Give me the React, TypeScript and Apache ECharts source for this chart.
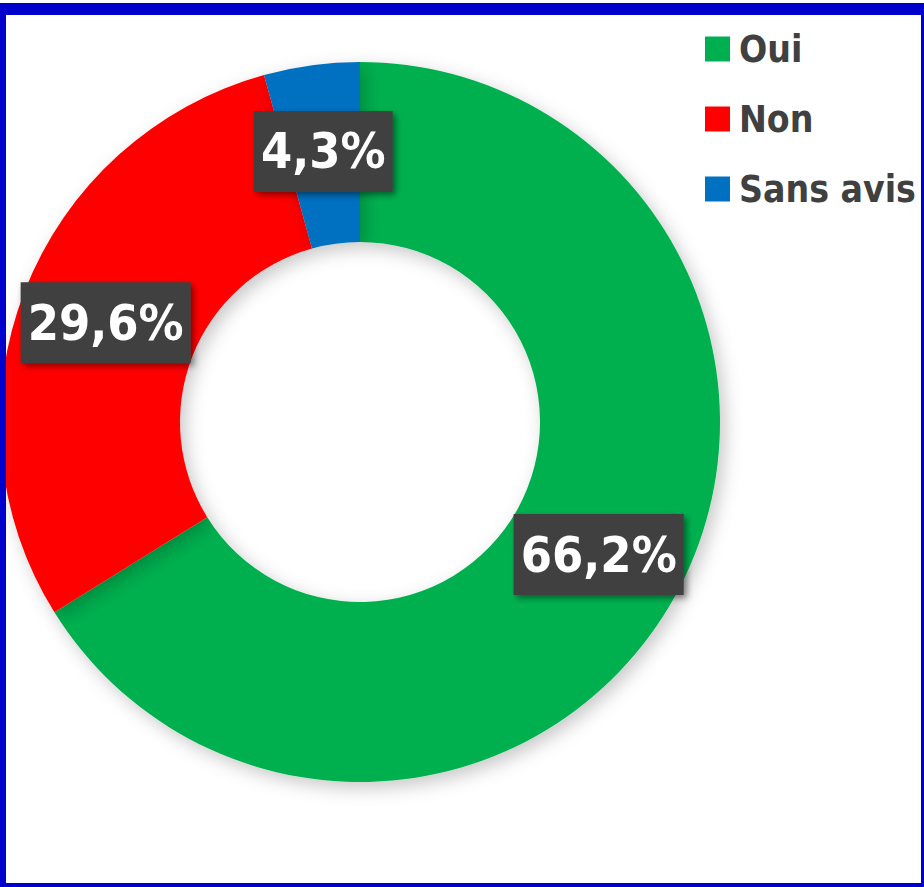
import React, { useEffect, useRef } from "react";
import * as echarts from "echarts";

const categories = ["Oui", "Non", "Sans avis"];
const values = [66.2, 29.6, 4.3];
const labels = ["66,2%", "29,6%", "4,3%"];
const colors = ["#00B050", "#FF0000", "#0070C0"];

const FONT = "'DejaVu Sans Condensed', 'Liberation Sans Narrow', 'Liberation Sans', Arial, sans-serif";

export default function App() {
  const ref = useRef<HTMLDivElement>(null);
  useEffect(() => {
    if (!ref.current) return;
    const chart = echarts.init(ref.current, null, { renderer: "svg" });
    chart.setOption({
      animation: false,
      backgroundColor: "#ffffff",
      color: colors,
      legend: {
        orient: "vertical",
        left: 700,
        top: 19,
        itemWidth: 25,
        itemHeight: 25,
        itemGap: 20,
        icon: "rect",
        data: categories,
        textStyle: {
          fontFamily: FONT,
          fontWeight: "bold",
          fontSize: 37,
          lineHeight: 50,
          color: "#404040",
          padding: [0, 0, 0, 4],
        },
      },
      graphic: [
        { type: "rect", shape: { x: 0, y: 3, width: 924, height: 12 }, style: { fill: "#0000CC" }, z: 100 },
        { type: "rect", shape: { x: 0, y: 3, width: 6, height: 884 }, style: { fill: "#0000CC" }, z: 100 },
        { type: "rect", shape: { x: 0, y: 883, width: 924, height: 4 }, style: { fill: "#0000CC" }, z: 100 },
        { type: "rect", shape: { x: 921, y: 3, width: 3, height: 884 }, style: { fill: "#0000CC" }, z: 100 },
      ],
      series: [
        {
          type: "pie",
          center: [360, 422],
          radius: [180, 360],
          startAngle: 90,
          clockwise: true,
          avoidLabelOverlap: false,
          data: categories.map((name, i) => ({
            name,
            value: values[i],
            label: { formatter: labels[i] },
          })),
          itemStyle: {
            shadowBlur: 18,
            shadowOffsetX: 5,
            shadowOffsetY: 6,
            shadowColor: "rgba(0,0,0,0.22)",
          },
          label: {
            show: true,
            position: "inside",
            fontFamily: FONT,
            fontWeight: "bold",
            fontSize: 50,
            lineHeight: 62,
            color: "#ffffff",
            backgroundColor: "#404040",
            padding: [10, 7, 9, 7],
            shadowBlur: 6,
            shadowOffsetX: 3,
            shadowOffsetY: 3,
            shadowColor: "rgba(0,0,0,0.45)",
          },
          labelLine: { show: false },
          emphasis: { disabled: true },
        },
      ],
    });
    return () => chart.dispose();
  }, []);
  return (
    <div
      ref={ref}
      style={{ position: "absolute", left: 0, top: 0, width: 924, height: 887 }}
    />
  );
}
